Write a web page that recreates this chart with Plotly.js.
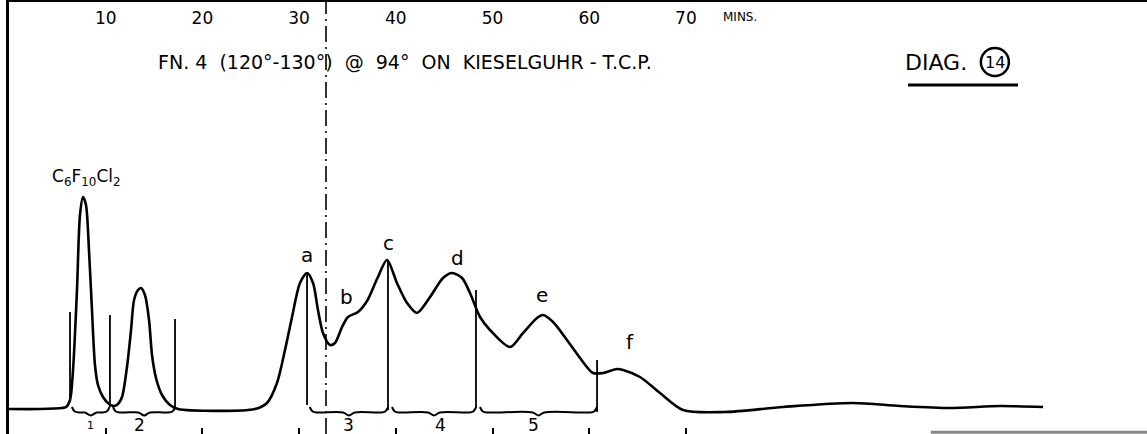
<!DOCTYPE html>
<html>
<head>
<meta charset="utf-8">
<script src="https://cdn.plot.ly/plotly-3.0.1.min.js"></script>
<style>html,body{margin:0;padding:0;background:#fff;}#chart{width:1147px;height:434px;}</style>
</head>
<body>
<div id="chart"></div>
<script>
// Chromatogram trace: time (minutes) vs detector response (arbitrary units)
const timeMin = [0, 3.2, 5.5, 5.9, 6.31, 6.62, 7.03, 7.34, 7.65, 7.96, 8.27, 8.58, 8.89, 9.2, 9.72, 10.34, 10.86,
  11.27, 11.69, 12.2, 12.62, 12.93, 13.34, 13.65, 14.06, 14.48, 14.79, 15.2, 15.82, 16.65, 17.48, 25.44,
  26.68, 27.71, 28.54, 29.27, 30.09, 30.82, 31.44, 31.95, 32.47, 33.2, 33.71, 34.44, 35.06, 36.09, 37.02, 38.06,
  39.09, 40.12, 41.16, 42.19, 43.54, 44.88, 45.81, 46.85, 47.67, 48.71, 49.74, 51.81, 53.15, 54.6, 55.22, 56.26,
  57.7, 59.05, 60.39, 61.43, 62.88, 63.5, 65.25, 67.32, 69.7, 74.04, 80.04, 87.28, 92.14, 97.31, 102.48, 106.93];
const response = [0, 0, 1, 2, 9, 39, 119, 194, 212, 204, 159, 99, 44, 24, 12, 5, 3,
  5, 12, 42, 79, 109, 119, 121, 114, 89, 54, 31, 14, 4, 0, 0,
  6, 26, 59, 92, 126, 136, 126, 99, 76, 64, 66, 82, 92, 97, 108, 130,
  149, 126, 106, 96, 112, 131, 136, 131, 116, 92, 79, 62, 76, 91, 94, 87,
  69, 51, 36, 36, 40, 39, 32, 16, -1, -3, 2, 6, 3, 1, 3, 2];

// Fraction cut lines
const cutTime = [6.31, 10.44, 17.17, 30.82, 39.19, 48.29, 60.81];
const cutTop = [97, 94, 90, 136, 149, 119, 49];
const cutBottom = [9, 2, 0, 4, -1, 1, -3];

// Fractions (braces under baseline)
const fracLabels = ["1", "2", "3", "4", "5"];
const fracStart = [6.5, 10.75, 31.1, 39.6, 48.7];
const fracEnd = [10.4, 17.2, 39.2, 48.3, 60.8];
const fracLabelTime = [8.4, 13.5, 35.1, 44.6, 54.2];

// Peak labels
const peakLabels = ["C<sub>6</sub>F<sub>10</sub>Cl<sub>2</sub>", "a", "b", "c", "d", "e", "f"];
const peakLabelTime = [8.0, 30.8, 34.95, 39.2, 46.4, 55.1, 64.2];
const peakLabelResp = [232, 154, 112, 166, 151, 114, 67];

// Time axis ticks
const tickVals = [10, 20, 30, 40, 50, 60, 70];
const tickText = ["10", "20", "30", "40", "50", "60", "70"];

const injectionTime = 32.78;

const FONT = "DejaVu Sans, Liberation Sans, sans-serif";

// build cut-line trace
const cx = [], cy = [];
cutTime.forEach((t, i) => { cx.push(t, t, null); cy.push(cutTop[i], cutBottom[i], null); });

// build brace traces
const bx = [], by = [];
fracStart.forEach((s, i) => {
  const e = fracEnd[i], m = (s + e) / 2;
  bx.push(s, s + 0.3, s + 0.9, m - 0.6, m, m + 0.6, e - 0.9, e - 0.3, e, null);
  by.push(2, -2.5, -3.5, -3.5, -6.5, -3.5, -3.5, -2.5, 2, null);
});

const traces = [
  {x: timeMin, y: response, mode: 'lines', line: {color: '#000', width: 2.6, shape: 'spline', smoothing: 0.8}, hoverinfo: 'skip', showlegend: false},
  {x: cx, y: cy, mode: 'lines', line: {color: '#000', width: 1.8}, hoverinfo: 'skip', showlegend: false},
  {x: bx, y: by, mode: 'lines', line: {color: '#000', width: 2, shape: 'spline', smoothing: 1}, hoverinfo: 'skip', showlegend: false},
  {x: [0, 1], y: [0, 0], xaxis: 'x2', mode: 'lines', line: {width: 0}, hoverinfo: 'skip', showlegend: false}
];

const annotations = [];
peakLabels.forEach((t, i) => annotations.push({x: peakLabelTime[i], y: peakLabelResp[i], text: t, showarrow: false,
  font: {family: FONT, size: i === 0 ? 17 : 20, color: '#000'}}));
fracLabels.forEach((t, i) => annotations.push({x: fracLabelTime[i], y: -16, text: t, showarrow: false,
  font: {family: FONT, size: i === 0 ? 11 : 17, color: '#000'}}));
annotations.push({x: 41.0, y: 347, text: "FN. 4  (120°-130°)  @  94°  ON  KIESELGUHR - T.C.P.", showarrow: false,
  font: {family: FONT, size: 19, color: '#000'}});
annotations.push({x: 75.6, y: 392, text: "MINS.", showarrow: false, font: {family: FONT, size: 12, color: '#000'}});
annotations.push({x: 95.9, y: 347, text: "DIAG.", showarrow: false, font: {family: FONT, size: 22, color: '#000'}});
annotations.push({x: 101.95, y: 347, text: "14", showarrow: false, font: {family: FONT, size: 16, color: '#000'}});

const layout = {
  width: 1147, height: 434,
  margin: {l: 9, r: 0, t: 2, b: 0},
  paper_bgcolor: '#fff', plot_bgcolor: '#fff',
  showlegend: false,
  xaxis: {range: [0, 117.68], side: 'top', tickvals: tickVals, ticktext: tickText, ticks: '',
    ticklabelposition: 'inside', ticklabelstandoff: 10, tickfont: {family: FONT, size: 17, color: '#000'},
    showline: true, linecolor: '#000', linewidth: 2, showgrid: false, zeroline: false, fixedrange: true},
  xaxis2: {range: [0, 117.68], overlaying: 'x', side: 'bottom', anchor: 'y', tickvals: tickVals,
    ticks: 'inside', ticklen: 6, tickwidth: 2, tickcolor: '#000', showticklabels: false,
    showline: false, showgrid: false, zeroline: false},
  yaxis: {range: [-25, 407], showline: true, linecolor: '#000', linewidth: 3, showticklabels: false,
    ticks: '', showgrid: false, zeroline: false, fixedrange: true},
  shapes: [
    {type: 'line', xref: 'x', yref: 'paper', x0: injectionTime, x1: injectionTime, y0: 0, y1: 1,
      line: {color: '#000', width: 1.6, dash: '16px,5px,2px,5px'}},
    {type: 'circle', xref: 'x', yref: 'y', x0: 100.5, x1: 103.4, y0: 333, y1: 361, line: {color: '#000', width: 2.5}},
    {type: 'line', xref: 'x', yref: 'y', x0: 92.97, x1: 104.34, y0: 324, y1: 324, line: {color: '#000', width: 3}},
    {type: 'line', xref: 'paper', yref: 'paper', x0: 0.81, x1: 1, y0: 0.004, y1: 0.004, line: {color: '#888', width: 3}}
  ],
  annotations: annotations
};

Plotly.newPlot('chart', traces, layout, {displayModeBar: false, staticPlot: true});
</script>
</body>
</html>
